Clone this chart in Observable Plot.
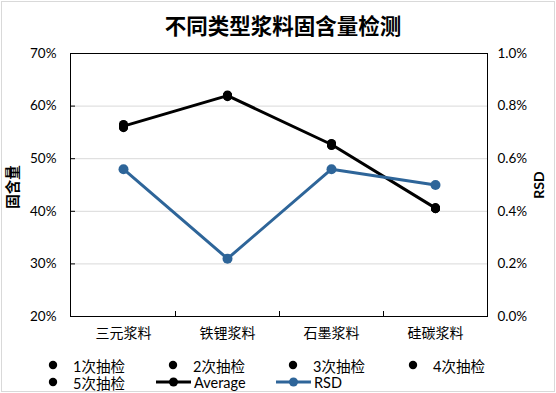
<!DOCTYPE html>
<html><head><meta charset="utf-8">
<script src="https://cdn.jsdelivr.net/npm/d3@7"></script>
<script src="https://cdn.jsdelivr.net/npm/@observablehq/plot@0.6"></script>
<style>
body{margin:0;background:#fff;}
#wrap{position:relative;width:556px;height:393px;overflow:hidden;font-family:Lato,"Noto Sans CJK SC",sans-serif;color:#000;}
#border{position:absolute;left:1px;top:1px;width:552px;height:389px;border:1px solid #d9d9d9;}
#title{position:absolute;left:0;width:566px;top:10px;text-align:center;font-family:"Noto Sans CJK SC",sans-serif;font-weight:700;font-size:21.5px;line-height:30px;}
#chart{position:absolute;left:0;top:0;}
.ylab{position:absolute;font-weight:700;line-height:16px;white-space:nowrap;transform-origin:center center;}
#yl{font-family:"Noto Sans CJK SC",sans-serif;font-size:14.5px;left:-13px;top:179px;width:50px;text-align:center;transform:rotate(-90deg);}
#yr{font-size:14px;left:521px;top:177px;width:36px;text-align:center;transform:rotate(-90deg);font-family:Lato,sans-serif;}
.li{position:absolute;display:flex;align-items:center;font-size:14.5px;height:16px;white-space:nowrap;}
.li svg{display:block;}
</style></head><body>
<div id="wrap">
 <div id="border"></div>
 <div id="title">不同类型浆料固含量检测</div>
 <div id="chart"></div>
 <div class="ylab" id="yl">固含量</div>
 <div class="ylab" id="yr">RSD</div>
 <div id="legend"></div>
</div>
<script>
const categories = ["三元浆料", "铁锂浆料", "石墨浆料", "硅碳浆料"];
const sampleNames = ["1次抽检", "2次抽检", "3次抽检", "4次抽检", "5次抽检"];
const sample1 = [0.565, 0.620, 0.529, 0.406];
const sample2 = [0.559, 0.619, 0.525, 0.405];
const sample3 = [0.562, 0.621, 0.527, 0.407];
const sample4 = [0.560, 0.618, 0.526, 0.406];
const sample5 = [0.564, 0.620, 0.528, 0.405];
const average = [0.562, 0.620, 0.527, 0.406];
const rsd = [0.0056, 0.0022, 0.0056, 0.0050];
const leftTicks = [0.2, 0.3, 0.4, 0.5, 0.6, 0.7];
const rightTicks = [0, 0.002, 0.004, 0.006, 0.008, 0.010];
const blue = "#2E6599";

const rsdToLeft = r => 0.2 + r * 50;
const samples = [sample1, sample2, sample3, sample4, sample5];
const sampleRows = samples.flatMap((s, i) => s.map((v, j) => ({name: sampleNames[i], cat: categories[j], v})));
const avgRows = categories.map((c, j) => ({cat: c, v: average[j]}));
const rsdRows = categories.map((c, j) => ({cat: c, v: rsdToLeft(rsd[j])}));

const boundaryTicks = (index, scales, values, dims) => {
  const g = d3.create("svg:g").attr("stroke", "black");
  const yb = dims.height - dims.marginBottom;
  categories.slice(1).forEach(c => {
    const x = Math.round(scales.x(c)) + 0.5;
    g.append("line").attr("x1", x).attr("x2", x).attr("y1", yb).attr("y2", yb - 5);
  });
  return g.node();
};

const chart = Plot.plot({
  width: 556, height: 393,
  marginTop: 53, marginBottom: 77, marginLeft: 70, marginRight: 69,
  style: {fontFamily: 'Lato, "Noto Sans CJK SC", sans-serif', fontSize: "13.5px", color: "#000", background: "transparent"},
  x: {type: "band", domain: categories, paddingInner: 0, paddingOuter: 0, label: null},
  y: {domain: [0.2, 0.7], label: null},
  marks: [
    Plot.gridY(leftTicks, {stroke: "#d9d9d9", strokeOpacity: 1}),
    Plot.frame({stroke: "black"}),
    Plot.axisY(leftTicks, {anchor: "left", tickSize: -5, tickPadding: 19, tickFormat: d3.format(".0%"), label: null, fontSize: 13.5}),
    Plot.axisY(rightTicks.map(rsdToLeft), {anchor: "right", tickSize: 0, tickPadding: 10, tickFormat: v => d3.format(".1%")((v - 0.2) / 50), label: null, fontSize: 13.5}),
    Plot.axisX({tickSize: 0, tickPadding: 12, label: null, fontSize: 14}),
    boundaryTicks,
    Plot.dot(sampleRows, {x: "cat", y: "v", r: 4.5, fill: "black", stroke: "none"}),
    Plot.line(avgRows, {x: "cat", y: "v", stroke: "black", strokeWidth: 3}),
    Plot.dot(avgRows, {x: "cat", y: "v", r: 4, fill: "black", stroke: "none"}),
    Plot.line(rsdRows, {x: "cat", y: "v", stroke: blue, strokeWidth: 3}),
    Plot.dot(rsdRows, {x: "cat", y: "v", r: 5, fill: blue, stroke: "none"})
  ]
});
document.getElementById("chart").appendChild(chart);

// legend
const legend = document.getElementById("legend");
const dotSwatch = `<svg width="10" height="10"><circle cx="5" cy="5" r="4.2" fill="black"/></svg>`;
const lineSwatch = col => `<svg width="35" height="10"><line x1="0" y1="5" x2="35" y2="5" stroke="${col}" stroke-width="3"/><circle cx="17.5" cy="5" r="4.5" fill="${col}"/></svg>`;
const items = [
  {sw: dotSwatch, label: sampleNames[0], x: 48, gap: 15, y: 357},
  {sw: dotSwatch, label: sampleNames[1], x: 168, gap: 15, y: 357},
  {sw: dotSwatch, label: sampleNames[2], x: 288, gap: 15, y: 357},
  {sw: dotSwatch, label: sampleNames[3], x: 408, gap: 15, y: 357},
  {sw: dotSwatch, label: sampleNames[4], x: 48, gap: 15, y: 374},
  {sw: lineSwatch("black"), label: "Average", x: 156, gap: 3, y: 374},
  {sw: lineSwatch(blue), label: "RSD", x: 276, gap: 3, y: 374}
];
items.forEach(it => {
  const d = document.createElement("div");
  d.className = "li";
  d.style.left = it.x + "px";
  d.style.top = it.y + "px";
  d.innerHTML = it.sw + `<span style="margin-left:${it.gap}px">${it.label}</span>`;
  legend.appendChild(d);
});
</script>
</body></html>
